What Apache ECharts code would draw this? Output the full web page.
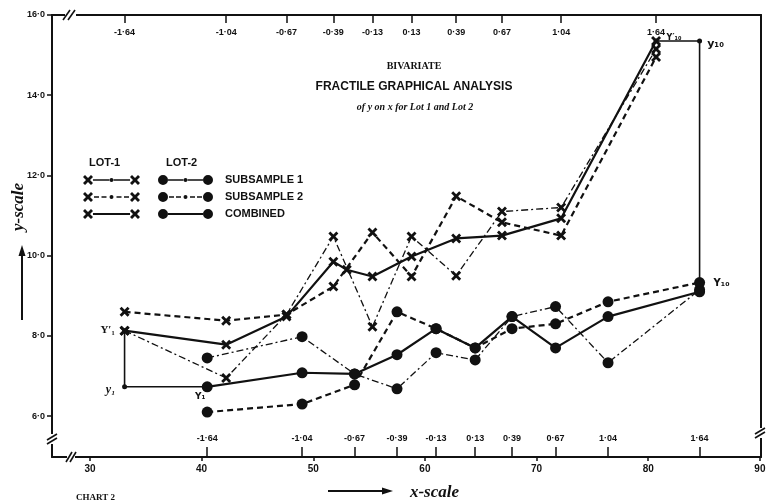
<!DOCTYPE html>
<html><head><meta charset="utf-8">
<script src="https://cdn.jsdelivr.net/npm/echarts@6/dist/echarts.min.js"></script>
<style>html,body{margin:0;padding:0;background:#fff}#c{width:767px;height:503px}</style>
</head><body><div id="c"></div>
<script>
// ---- axis tick values ----
const xTickValues = [30, 40, 50, 60, 70, 80, 90];
const yTickValues = [6, 8, 10, 12, 14, 16];
const fractileLabels = ['-1·64', '-1·04', '-0·67', '-0·39', '-0·13', '0·13', '0·39', '0·67', '1·04', '1·64'];

// ---- LOT 1 (x-means of fractile groups, y-means) ----
const lot1X = [33.1, 42.2, 47.6, 51.8, 55.3, 58.8, 62.8, 66.9, 72.2, 80.7];
const lot1Sub1 = [8.13, 6.95, 8.53, 10.48, 8.23, 10.48, 9.5, 11.1, 11.2, 15.15];
const lot1Sub2 = [8.6, 8.38, 8.53, 9.23, 10.58, 9.48, 11.48, 10.83, 10.5, 14.95];
const lot1CombinedX = [33.1, 42.2, 47.6, 51.8, 53.0, 55.3, 58.8, 62.8, 66.9, 72.2, 80.7];
const lot1Combined = [8.13, 7.78, 8.48, 9.85, 9.65, 9.48, 9.98, 10.43, 10.5, 10.93, 15.35];

// ---- LOT 2 ----
const lot2X = [40.5, 49.0, 53.7, 57.5, 61.0, 64.5, 67.8, 71.7, 76.4, 84.6];
const lot2Sub1 = [7.45, 7.98, 7.05, 6.68, 7.58, 7.4, 8.48, 8.73, 7.33, 9.15];
const lot2Sub2 = [6.1, 6.3, 6.78, 8.6, 8.18, 7.7, 8.18, 8.3, 8.85, 9.33];
const lot2Combined = [6.73, 7.08, 7.05, 7.53, 8.18, 7.7, 8.48, 7.7, 8.48, 9.1];

// ---- helpers ----
const INK = '#111';
const pairs = (xs, ys) => xs.map((x, i) => [x, ys[i]]);
const nearestLabel = (xs, v) => {
  let b = 0; xs.forEach((x, i) => { if (Math.abs(x - v) < Math.abs(xs[b] - v)) b = i; });
  return fractileLabels[b];
};
const X_MARK = 'path://M0,2L2,0L5,3L8,0L10,2L7,5L10,8L8,10L5,7L2,10L0,8L3,5Z';
function xAt(x0) { return `M${x0},2L${x0+2},0L${x0+5},3L${x0+8},0L${x0+10},2L${x0+7},5L${x0+10},8L${x0+8},10L${x0+5},7L${x0+2},10L${x0},8L${x0+3},5Z`; }
function circ(cx, cy, r) { return `M${cx-r},${cy}A${r},${r},0,1,1,${cx+r},${cy}A${r},${r},0,1,1,${cx-r},${cy}Z`; }
function rect(x0, x1, h) { const y0 = 5 - h/2, y1 = 5 + h/2; return `M${x0},${y0}L${x1},${y0}L${x1},${y1}L${x0},${y1}Z`; }
const icon1Sub1 = 'path://' + xAt(0) + rect(10, 26.3, 1.3) + circ(28.5, 5, 2) + rect(30.7, 47, 1.3) + xAt(47);
const icon1Sub2 = 'path://' + xAt(0) + rect(11, 16, 1.6) + rect(18.5, 23.5, 1.6) + circ(28.5, 5, 2) + rect(33.5, 38.5, 1.6) + rect(41, 46, 1.6) + xAt(47);
const icon1Comb = 'path://' + xAt(0) + rect(10, 47, 2.2) + xAt(47);
const icon2Sub1 = 'path://' + circ(5, 5, 5) + rect(10, 25.3, 1.3) + circ(27.5, 5, 2) + rect(29.7, 45, 1.3) + circ(50, 5, 5);
const icon2Sub2 = 'path://' + circ(5, 5, 5) + rect(11, 16, 1.6) + rect(18, 23, 1.6) + circ(27.5, 5, 2) + rect(32, 37, 1.6) + rect(39, 44, 1.6) + circ(50, 5, 5);
const icon2Comb = 'path://' + circ(5, 5, 5) + rect(10, 45, 2.2) + circ(50, 5, 5);

const styleSub1 = { color: INK, width: 1.3, type: [7, 3, 2, 3] };
const styleSub2 = { color: INK, width: 2.2, type: [6, 4] };
const styleComb = { color: INK, width: 2.2, type: 'solid' };

const lbl = (text, offset, extra) => Object.assign({
  show: true, position: 'inside', offset, formatter: text, color: INK,
  fontFamily: 'DejaVu Sans', fontWeight: 'bold', fontSize: 10
}, extra || {});
const mp = (coord, text, offset, extra) => ({
  coord, symbol: 'circle', symbolSize: 1, itemStyle: { color: 'rgba(0,0,0,0)' }, label: lbl(text, offset, extra)
});

function lineSeries(name, data, symbol, size, lineStyle, extra) {
  return Object.assign({
    name, type: 'line', data, symbol, symbolSize: size, showAllSymbol: true,
    lineStyle, itemStyle: { color: INK }, z: 3, animation: false
  }, extra || {});
}

const lastIdx = lot1Combined.length - 1;
const series = [
  lineSeries('LOT-1 SUBSAMPLE 1', pairs(lot1X, lot1Sub1), X_MARK, 10, styleSub1),
  lineSeries('LOT-1 SUBSAMPLE 2', pairs(lot1X, lot1Sub2), X_MARK, 10, styleSub2),
  lineSeries('LOT-1 COMBINED', pairs(lot1CombinedX, lot1Combined), X_MARK, 10, styleComb, {
    markPoint: { animation: false, data: [
      mp([lot1CombinedX[0], lot1Combined[0]], 'Y′₁', [-17, -1], { fontFamily: 'Liberation Serif', fontSize: 11 }),
      mp([lot1CombinedX[lastIdx], lot1Combined[lastIdx]], 'Y′₁₀', [18, -3], { fontSize: 8 })
    ] }
  }),
  lineSeries('LOT-2 SUBSAMPLE 1', pairs(lot2X, lot2Sub1), 'circle', 11, styleSub1),
  lineSeries('LOT-2 SUBSAMPLE 2', pairs(lot2X, lot2Sub2), 'circle', 11, styleSub2, {
    markPoint: { animation: false, data: [
      mp([lot2X[9], lot2Sub2[9]], 'Y₁₀', [22, 1])
    ] }
  }),
  lineSeries('LOT-2 COMBINED', pairs(lot2X, lot2Combined), 'circle', 11, styleComb, {
    markPoint: { animation: false, data: [
      mp([lot2X[0], lot2Combined[0]], 'Y₁', [-7, 10], { fontSize: 9 })
    ] }
  }),
  lineSeries('sep-left', [[lot1X[0], lot1Combined[0]], [lot1X[0], lot2Combined[0]], [lot2X[0], lot2Combined[0]]],
    'circle', 5, { color: INK, width: 1.6 }, {
      z: 2,
      markPoint: { animation: false, data: [
        mp([lot1X[0], lot2Combined[0]], 'y₁', [-14, 3], { fontFamily: 'Liberation Serif', fontStyle: 'italic', fontSize: 12 })
      ] }
    }),
  lineSeries('sep-right', [[lot1CombinedX[lastIdx], lot1Combined[lastIdx]], [lot2X[9], lot1Combined[lastIdx]], [lot2X[9], lot2Sub2[9]]],
    'circle', 5, { color: INK, width: 1.6 }, {
      z: 2,
      markPoint: { animation: false, data: [
        mp([lot2X[9], lot1Combined[lastIdx]], 'y₁₀', [16, 3], { fontSize: 11 })
      ] }
    })
];

const xMin = 26.6, xMax = 90.1, yMin = 4.98, yMax = 16.0;
const tickFont = { color: INK, fontWeight: 'bold', fontFamily: 'Liberation Sans', fontSize: 9 };

const option = {
  backgroundColor: '#fff',
  animation: false,
  grid: { left: 52, right: 6, top: 15, bottom: 46, containLabel: false, outerBoundsMode: 'none' },
  title: [
    { text: 'BIVARIATE', left: 409, top: 56, textAlign: 'center',
      textStyle: { fontFamily: 'Liberation Serif', fontWeight: 'bold', fontSize: 10, color: INK } },
    { text: 'FRACTILE GRAPHICAL ANALYSIS', left: 409, top: 76, textAlign: 'center',
      textStyle: { fontFamily: 'Liberation Sans', fontWeight: 'bold', fontSize: 12, color: INK } },
    { text: 'of y on x for Lot 1 and Lot 2', left: 410, top: 97, textAlign: 'center',
      textStyle: { fontFamily: 'Liberation Serif', fontWeight: 'bold', fontStyle: 'italic', fontSize: 10, color: INK } },
    { text: 'LOT-1', left: 84, top: 152, textStyle: { fontFamily: 'Liberation Sans', fontWeight: 'bold', fontSize: 11, color: INK } },
    { text: 'LOT-2', left: 161, top: 152, textStyle: { fontFamily: 'Liberation Sans', fontWeight: 'bold', fontSize: 11, color: INK } },
    { text: 'CHART 2', left: 71, top: 488, textStyle: { fontFamily: 'Liberation Serif', fontWeight: 'bold', fontSize: 9, color: INK } }
  ],
  legend: [
    { orient: 'vertical', left: 78, top: 169, itemWidth: 57, itemHeight: 10, itemGap: 5, selectedMode: false,
      formatter: () => ' ', textStyle: { fontSize: 11, lineHeight: 12, padding: 0 },
      data: [
        { name: 'LOT-1 SUBSAMPLE 1', icon: icon1Sub1 },
        { name: 'LOT-1 SUBSAMPLE 2', icon: icon1Sub2 },
        { name: 'LOT-1 COMBINED', icon: icon1Comb }
      ] },
    { orient: 'vertical', left: 153, top: 169, itemWidth: 55, itemHeight: 10, itemGap: 5, selectedMode: false,
      formatter: n => n.replace('LOT-2 ', ''),
      textStyle: { fontFamily: 'Liberation Sans', fontWeight: 'bold', fontSize: 11, lineHeight: 12, color: INK, padding: [0, 0, 0, 7] },
      data: [
        { name: 'LOT-2 SUBSAMPLE 1', icon: icon2Sub1 },
        { name: 'LOT-2 SUBSAMPLE 2', icon: icon2Sub2 },
        { name: 'LOT-2 COMBINED', icon: icon2Comb }
      ] }
  ],
  xAxis: [
    { type: 'value', position: 'bottom', min: xMin, max: xMax,
      axisLine: { lineStyle: { color: INK, width: 2 } },
      axisTick: { customValues: xTickValues, length: 4, lineStyle: { color: INK, width: 1.5 } },
      axisLabel: { customValues: xTickValues, margin: 7, fontSize: 10, color: INK, fontWeight: 'bold', fontFamily: 'Liberation Sans' },
      splitLine: { show: false },
      name: 'x-scale', nameLocation: 'middle', nameGap: 27,
      nameTextStyle: { fontFamily: 'Liberation Serif', fontStyle: 'italic', fontWeight: 'bold', fontSize: 17, color: INK, padding: [0, 0, 0, 56] } },
    { type: 'value', position: 'top', min: xMin, max: xMax,
      axisLine: { lineStyle: { color: INK, width: 2 } },
      axisTick: { inside: true, customValues: lot1X, length: 8, lineStyle: { color: INK, width: 1.5 } },
      axisLabel: Object.assign({ inside: true, customValues: lot1X, margin: 13, formatter: v => nearestLabel(lot1X, v) }, tickFont),
      splitLine: { show: false } },
    { type: 'value', position: 'bottom', min: xMin, max: xMax,
      axisLine: { show: false },
      axisTick: { inside: true, customValues: lot2X, length: 10, lineStyle: { color: INK, width: 1.5 } },
      axisLabel: Object.assign({ inside: true, customValues: lot2X, margin: 14, formatter: v => nearestLabel(lot2X, v) }, tickFont),
      splitLine: { show: false } }
  ],
  yAxis: [
    { type: 'value', position: 'left', min: yMin, max: yMax,
      axisLine: { lineStyle: { color: INK, width: 2 } },
      axisTick: { customValues: yTickValues, length: 5, lineStyle: { color: INK, width: 1.5 } },
      axisLabel: { customValues: yTickValues, margin: 7, color: INK, fontWeight: 'bold', fontFamily: 'Liberation Sans', fontSize: 9,
        formatter: v => v.toFixed(1).replace('.', '·') },
      splitLine: { show: false },
      name: 'y-scale', nameLocation: 'middle', nameGap: 25, nameMoveOverlap: false,
      nameTextStyle: { fontFamily: 'Liberation Serif', fontStyle: 'italic', fontWeight: 'bold', fontSize: 17, color: INK, padding: [0, 0, 0, 58] } },
    { type: 'value', position: 'right', min: yMin, max: yMax,
      axisLine: { lineStyle: { color: INK, width: 2 } },
      axisTick: { show: false }, axisLabel: { show: false }, splitLine: { show: false } }
  ],
  graphic: [
    // arrows beside axis names
    { type: 'line', shape: { x1: 22, y1: 320, x2: 22, y2: 254 }, style: { stroke: INK, lineWidth: 2 } },
    { type: 'polygon', shape: { points: [[22, 245], [18.5, 256], [25.5, 256]] }, style: { fill: INK } },
    { type: 'line', shape: { x1: 328, y1: 491, x2: 384, y2: 491 }, style: { stroke: INK, lineWidth: 2 } },
    { type: 'polygon', shape: { points: [[393, 491], [382, 487.5], [382, 494.5]] }, style: { fill: INK } },
    // axis break marks
    { type: 'rect', shape: { x: 65, y: 11, width: 11, height: 8 }, style: { fill: '#fff' }, z: 100 },
    { type: 'line', shape: { x1: 63, y1: 20, x2: 70, y2: 10 }, style: { stroke: INK, lineWidth: 1.6 }, z: 101 },
    { type: 'line', shape: { x1: 68, y1: 20, x2: 75, y2: 10 }, style: { stroke: INK, lineWidth: 1.6 }, z: 101 },
    { type: 'rect', shape: { x: 67, y: 453, width: 8, height: 8 }, style: { fill: '#fff' }, z: 100 },
    { type: 'line', shape: { x1: 66, y1: 462, x2: 72, y2: 452 }, style: { stroke: INK, lineWidth: 1.6 }, z: 101 },
    { type: 'line', shape: { x1: 70, y1: 462, x2: 76, y2: 452 }, style: { stroke: INK, lineWidth: 1.6 }, z: 101 },
    { type: 'rect', shape: { x: 48, y: 434, width: 8, height: 10 }, style: { fill: '#fff' }, z: 100 },
    { type: 'line', shape: { x1: 47, y1: 440, x2: 57, y2: 434 }, style: { stroke: INK, lineWidth: 1.6 }, z: 101 },
    { type: 'line', shape: { x1: 47, y1: 444, x2: 57, y2: 438 }, style: { stroke: INK, lineWidth: 1.6 }, z: 101 },
    { type: 'rect', shape: { x: 756, y: 428, width: 8, height: 10 }, style: { fill: '#fff' }, z: 100 },
    { type: 'line', shape: { x1: 755, y1: 434, x2: 765, y2: 428 }, style: { stroke: INK, lineWidth: 1.6 }, z: 101 },
    { type: 'line', shape: { x1: 755, y1: 438, x2: 765, y2: 432 }, style: { stroke: INK, lineWidth: 1.6 }, z: 101 }
  ],
  series
};

const chart = echarts.init(document.getElementById('c'), null, { renderer: 'canvas' });
chart.setOption(option);
</script>
</body></html>
